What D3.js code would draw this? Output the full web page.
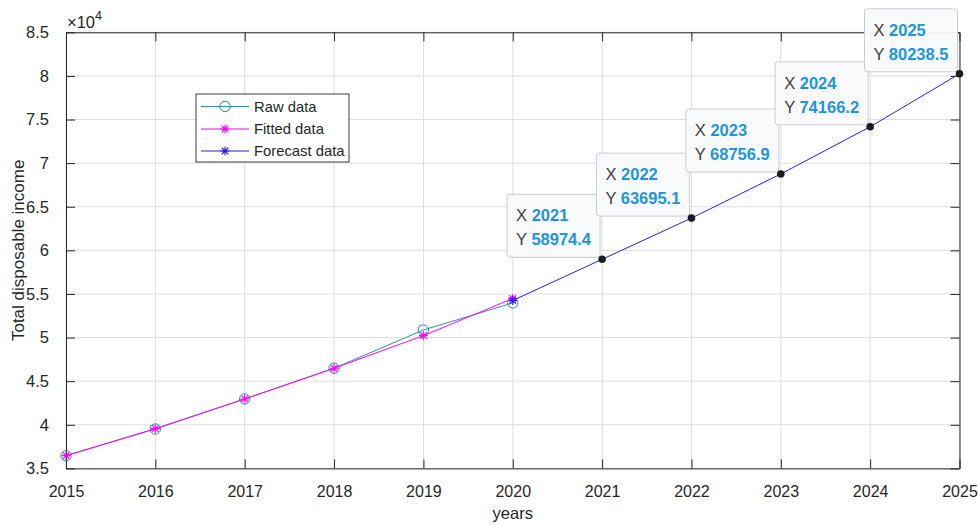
<!DOCTYPE html>
<html>
<head>
<meta charset="utf-8">
<script src="https://cdn.jsdelivr.net/npm/d3@7"></script>
<style>
  html, body { margin: 0; padding: 0; background: #ffffff; }
  svg { display: block; font-family: "Liberation Sans", Arial, Helvetica, sans-serif; }
</style>
</head>
<body>
<svg id="chart" width="978" height="525"></svg>
<script>
// Observed income, 2015-2020
const rawYears = [2015, 2016, 2017, 2018, 2019, 2020];
const rawValues = [36460, 39520, 42960, 46480, 50870, 53970];

// Model fit over the observed years
const fittedYears = [2015, 2016, 2017, 2018, 2019, 2020];
const fittedValues = [36460, 39560, 42960, 46480, 50220, 54480];

// Forecast continuation, 2020-2025
const forecastYears = [2020, 2021, 2022, 2023, 2024, 2025];
const forecastValues = [54250, 58974.4, 63695.1, 68756.9, 74166.2, 80238.5];

// Years that carry a value tip
const tipYears = [2021, 2022, 2023, 2024, 2025];

// Axis ticks
const xTicks = [2015, 2016, 2017, 2018, 2019, 2020, 2021, 2022, 2023, 2024, 2025];
const yTicks = [35000, 40000, 45000, 50000, 55000, 60000, 65000, 70000, 75000, 80000, 85000];

const legendLabels = ["Raw data", "Fitted data", "Forecast data"];

const colRaw = "#2f8fa3";
const colFit = "#ff00ff";
const colFc = "#2323d6";
const axisCol = "#262626";

const svg = d3.select("#chart");
const pLeft = 66, pRight = 959.5, pTop = 32.3, pBottom = 468.4;

const x = d3.scaleLinear().domain([2015, 2025]).range([pLeft, pRight]);
const y = d3.scaleLinear().domain([35000, 85000]).range([pBottom, pTop]);

// grid
const grid = svg.append("g");
grid.selectAll("line.gx").data(xTicks).join("line")
  .attr("x1", d => x(d)).attr("x2", d => x(d))
  .attr("y1", pTop).attr("y2", pBottom)
  .attr("stroke", "#dedede").attr("stroke-width", 1);
grid.selectAll("line.gy").data(yTicks).join("line")
  .attr("y1", d => y(d)).attr("y2", d => y(d))
  .attr("x1", pLeft).attr("x2", pRight)
  .attr("stroke", "#dedede").attr("stroke-width", 1);

// axes (box with inward ticks on all four sides)
const fmtY = d => d3.format("~g")(d / 10000);
const xAxisB = d3.axisBottom(x).tickValues(xTicks).tickFormat(d3.format("d")).tickSizeInner(-9).tickSizeOuter(0).tickPadding(17);
const xAxisT = d3.axisTop(x).tickValues(xTicks).tickFormat("").tickSizeInner(-9).tickSizeOuter(0);
const yAxisL = d3.axisLeft(y).tickValues(yTicks).tickFormat(fmtY).tickSizeInner(-9).tickSizeOuter(0).tickPadding(17);
const yAxisR = d3.axisRight(y).tickValues(yTicks).tickFormat("").tickSizeInner(-9).tickSizeOuter(0);

function styleAxis(g, size) {
  g.select(".domain").attr("stroke", axisCol).attr("stroke-width", 1);
  g.selectAll(".tick line").attr("stroke", axisCol).attr("stroke-width", 1);
  g.selectAll(".tick text").attr("fill", axisCol).attr("font-size", size);
}
svg.append("g").attr("transform", `translate(0,${pBottom})`).call(xAxisB).call(styleAxis, 16);
svg.append("g").attr("transform", `translate(0,${pTop})`).call(xAxisT).call(styleAxis, 16);
svg.append("g").attr("transform", `translate(${pLeft},0)`).call(yAxisL).call(styleAxis, 16.5);
svg.append("g").attr("transform", `translate(${pRight},0)`).call(yAxisR).call(styleAxis, 16.5);

// exponent label
const expo = svg.append("text").attr("x", 67).attr("y", 28).attr("fill", axisCol).attr("font-size", 16.5);
expo.append("tspan").text("\u00d710");
expo.append("tspan").attr("dy", -8).attr("font-size", 12.5).text("4");

// axis titles
svg.append("text").attr("x", (pLeft + pRight) / 2).attr("y", 519)
  .attr("text-anchor", "middle").attr("fill", axisCol).attr("font-size", 16.5).text("years");
svg.append("text").attr("transform", `translate(24,${(pTop + pBottom) / 2}) rotate(-90)`)
  .attr("text-anchor", "middle").attr("fill", axisCol).attr("font-size", 17).text("Total disposable income");

// marker shapes
const starPath = s => `M${-s},0H${s}M0,${-s}V${s}M${-s * 0.72},${-s * 0.72}L${s * 0.72},${s * 0.72}M${-s * 0.72},${s * 0.72}L${s * 0.72},${-s * 0.72}`;

const plot = svg.append("g");
const line = d3.line().x(d => x(d[0])).y(d => y(d[1]));

const rawPts = d3.zip(rawYears, rawValues);
const fitPts = d3.zip(fittedYears, fittedValues);
const fcPts = d3.zip(forecastYears, forecastValues);

// raw data
plot.append("path").datum(rawPts).attr("d", line).attr("fill", "none").attr("stroke", colRaw).attr("stroke-width", 1);
plot.selectAll("circle.raw").data(rawPts).join("circle")
  .attr("cx", d => x(d[0])).attr("cy", d => y(d[1])).attr("r", 5.2)
  .attr("fill", "none").attr("stroke", colRaw).attr("stroke-width", 1);

// fitted data
plot.append("path").datum(fitPts).attr("d", line).attr("fill", "none").attr("stroke", colFit).attr("stroke-width", 1);
plot.selectAll("path.fit").data(fitPts).join("path")
  .attr("transform", d => `translate(${x(d[0])},${y(d[1])})`)
  .attr("d", starPath(4.5)).attr("fill", "none").attr("stroke", colFit).attr("stroke-width", 1.1);

// forecast data (points with a value tip show the tip marker instead)
plot.append("path").datum(fcPts).attr("d", line).attr("fill", "none").attr("stroke", colFc).attr("stroke-width", 1);
plot.selectAll("path.fc").data(fcPts.filter(d => !tipYears.includes(d[0]))).join("path")
  .attr("transform", d => `translate(${x(d[0])},${y(d[1])})`)
  .attr("d", starPath(4.5)).attr("fill", "none").attr("stroke", colFc).attr("stroke-width", 1.1);

// legend
const lg = svg.append("g");
lg.append("rect").attr("x", 196).attr("y", 94).attr("width", 153).attr("height", 68)
  .attr("fill", "#ffffff").attr("stroke", axisCol).attr("stroke-width", 0.9);
const rowsY = [106.5, 129, 151];
const colors = [colRaw, colFit, colFc];
legendLabels.forEach((lab, i) => {
  const ry = rowsY[i];
  lg.append("line").attr("x1", 201).attr("x2", 249).attr("y1", ry).attr("y2", ry)
    .attr("stroke", colors[i]).attr("stroke-width", 1);
  if (i === 0) {
    lg.append("circle").attr("cx", 225).attr("cy", ry).attr("r", 5.2)
      .attr("fill", "none").attr("stroke", colors[i]).attr("stroke-width", 1);
  } else {
    lg.append("path").attr("transform", `translate(225,${ry})`).attr("d", starPath(4.5))
      .attr("fill", "none").attr("stroke", colors[i]).attr("stroke-width", 1.1);
  }
  lg.append("text").attr("x", 254).attr("y", ry + 5).attr("fill", axisCol)
    .attr("font-size", 14.8).text(lab);
});

// value tips on forecast points
const tipFmt = d3.format(".1f");
const tips = svg.append("g");
tipYears.forEach(yr => {
  const v = forecastValues[forecastYears.indexOf(yr)];
  const px = x(yr), py = y(v);
  const w = 93, h = 63;
  const bx = px - w - 2, by = py - h - 2;
  tips.append("rect").attr("x", bx).attr("y", by).attr("width", w).attr("height", h).attr("rx", 3)
    .attr("fill", "#f9fafc").attr("fill-opacity", 0.95).attr("stroke", "#c9cdd2").attr("stroke-width", 1);
  const t1 = tips.append("text").attr("x", bx + 9).attr("y", by + 27).attr("font-size", 16.5);
  t1.append("tspan").attr("fill", "#404040").text("X ");
  t1.append("tspan").attr("fill", "#1d95de").attr("font-weight", "bold").text(d3.format("d")(yr));
  const t2 = tips.append("text").attr("x", bx + 9).attr("y", by + 51).attr("font-size", 16.5);
  t2.append("tspan").attr("fill", "#404040").text("Y ");
  t2.append("tspan").attr("fill", "#1d95de").attr("font-weight", "bold").text(tipFmt(v));
  tips.append("circle").attr("cx", px).attr("cy", py).attr("r", 3.8).attr("fill", "#1c1c1c");
});
</script>
</body>
</html>
